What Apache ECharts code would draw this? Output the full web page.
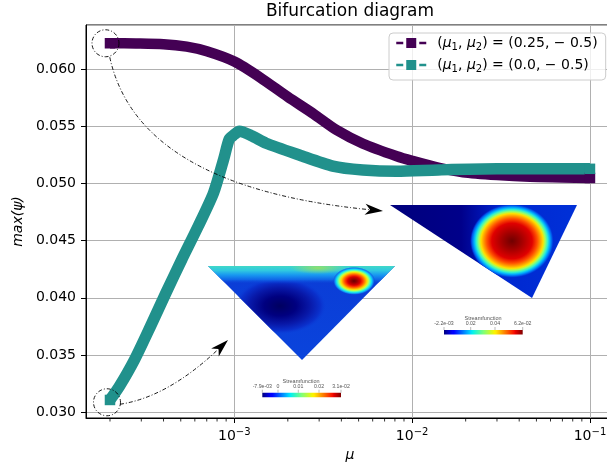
<!DOCTYPE html>
<html><head><meta charset="utf-8">
<script src="https://cdn.jsdelivr.net/npm/echarts@6/dist/echarts.min.js"></script>
<style>html,body{margin:0;padding:0;background:#fff}#c{width:607px;height:467px}</style>
</head><body><div id="c"></div>
<script>
// ---- data ----
const seriesNames = ['(μ1, μ2) = (0.25, −0.5)', '(μ1, μ2) = (0.0, −0.5)'];
const legendTails = ['(0.25, − 0.5)', '(0.0, − 0.5)'];
const muA  = [2.0e-4, 2.8e-4, 4.0e-4, 5.4e-4, 7.0e-4, 1.0e-3, 1.4e-3, 2.0e-3, 2.8e-3, 3.76e-3, 5.3e-3, 8.2e-3, 1.0e-2, 1.4e-2, 1.93e-2, 3.0e-2, 4.6e-2, 7.0e-2, 1.0e-1];
const psiA = [0.0623, 0.06228, 0.06222, 0.0620, 0.0616, 0.0607, 0.0593, 0.0576, 0.0561, 0.0547, 0.0535, 0.0524, 0.0520, 0.0514, 0.0510, 0.05075, 0.0506, 0.05055, 0.0505];
const muB  = [2.0e-4, 2.26e-4, 2.75e-4, 3.38e-4, 4.13e-4, 5.07e-4, 6.27e-4, 7.65e-4, 8.71e-4, 9.37e-4, 1.0e-3, 1.067e-3, 1.25e-3, 1.51e-3, 2.32e-3, 3.58e-3, 5.28e-3, 8.2e-3, 1.4e-2, 3.0e-2, 1.0e-1];
const psiB = [0.03105, 0.03225, 0.03459, 0.03751, 0.04044, 0.04336, 0.04628, 0.04921, 0.05213, 0.0539, 0.0543, 0.05459, 0.0542, 0.05354, 0.05251, 0.05154, 0.0512, 0.05108, 0.0512, 0.0513, 0.0513];
const minorTicksX = [2e-4,3e-4,4e-4,5e-4,6e-4,7e-4,8e-4,9e-4,2e-3,3e-3,4e-3,5e-3,6e-3,7e-3,8e-3,9e-3,2e-2,3e-2,4e-2,5e-2,6e-2,7e-2,8e-2,9e-2];
const cb1Labels = ['-7.9e-03', '0', '0.01', '0.02', '3.1e-02'];
const cb2Labels = ['-2.2e-03', '0.02', '0.04', '6.2e-02'];

const X_MIN = 1.466e-4, X_MAX = 0.1365, Y_MIN = 0.02947, Y_MAX = 0.0639;
const PURPLE = '#440154', TEAL = '#21918c';
const FONT = 'DejaVu Sans';

const chart = echarts.init(document.getElementById('c'), null, {renderer: 'canvas', width: 607, height: 467});

function lineSeries(name, mu, psi, color, w) {
  const last = mu.length - 1;
  return {
    type: 'line', name, data: mu.map((m, i) => [m, psi[i]]),
    color, symbol: 'rect', showSymbol: true, showAllSymbol: true,
    symbolSize: (v, p) => (p.dataIndex === 0 || p.dataIndex === last ? 10.5 : 0),
    smooth: 0.25,
    lineStyle: {width: w, color, join: 'round', cap: 'butt'},
    itemStyle: {color, borderWidth: 0},
    emphasis: {disabled: true}, silent: true, z: 2
  };
}

const option = {
  animation: false,
  backgroundColor: '#fff',
  textStyle: {fontFamily: FONT, color: '#000'},
  title: {
    text: 'Bifurcation diagram', left: 350, top: 3, textAlign: 'center', padding: 0,
    textStyle: {fontSize: 17, fontWeight: 'normal', color: '#000', fontFamily: FONT}
  },
  grid: {left: 86, right: -7, top: 25, bottom: 49, show: true, borderColor: '#000', borderWidth: 1,
         backgroundColor: 'transparent', containLabel: false, outerBoundsMode: 'none'},
  legend: {
    data: seriesNames, orient: 'vertical', left: 389, top: 33,
    padding: [3, 8, 6, 6], itemGap: 6, itemWidth: 30, itemHeight: 12.5,
    backgroundColor: 'rgba(255,255,255,0.8)', borderColor: '#cccccc', borderWidth: 1, borderRadius: 4,
    lineStyle: {width: 2.5, type: [7, 16], cap: 'butt'},
    itemStyle: {borderWidth: 0},
    selectedMode: false,
    formatter: name => {
      const i = seriesNames.indexOf(name);
      return '{g|}{p|(}{m|μ}{s|1}{p|, }{m|μ}{s|2}{p|) = ' + legendTails[i] + '}';
    },
    textStyle: {
      fontSize: 14, color: '#000', fontFamily: FONT,
      rich: {
        g: {width: 6},
        p: {fontSize: 14, lineHeight: 18, color: '#000', fontFamily: FONT},
        m: {fontSize: 14, lineHeight: 18, fontStyle: 'italic', color: '#000', fontFamily: FONT},
        s: {fontSize: 10, lineHeight: 7, verticalAlign: 'bottom', color: '#000', fontFamily: FONT}
      }
    }
  },
  xAxis: {
    type: 'log', logBase: 10, min: X_MIN, max: X_MAX,
    name: 'μ', nameLocation: 'middle', nameGap: 30,
    nameTextStyle: {fontSize: 14, fontStyle: 'italic', color: '#000', fontFamily: FONT},
    axisLine: {show: true, lineStyle: {color: '#000', width: 1}},
    axisTick: {show: true, length: 5, inside: false, lineStyle: {color: '#000', width: 1}},
    minorTick: {show: false}, minorSplitLine: {show: false},
    splitLine: {show: true, lineStyle: {color: '#b0b0b0', width: 1}},
    axisLabel: {
      show: true, margin: 9, showMinLabel: false, showMaxLabel: false,
      formatter: v => {
        const e = Math.log10(v);
        if (Math.abs(e - Math.round(e)) > 1e-6) return '';
        return '{b|10}{e|−' + (-Math.round(e)) + '}';
      },
      rich: {
        b: {fontSize: 14, lineHeight: 18, color: '#000', fontFamily: FONT},
        e: {fontSize: 10, lineHeight: 9, verticalAlign: 'top', color: '#000', fontFamily: FONT}
      }
    }
  },
  yAxis: {
    type: 'value', min: Y_MIN, max: Y_MAX, scale: true,
    name: 'max(ψ)', nameLocation: 'middle', nameGap: 58,
    nameTextStyle: {fontSize: 14, fontStyle: 'italic', color: '#000', fontFamily: FONT},
    axisLine: {show: true, lineStyle: {color: '#000', width: 1}},
    axisTick: {show: true, length: 5, inside: false, lineStyle: {color: '#000', width: 1}},
    splitLine: {show: true, lineStyle: {color: '#b0b0b0', width: 1}},
    axisLabel: {
      show: true, margin: 10, fontSize: 14, color: '#000', fontFamily: FONT,
      showMinLabel: false, showMaxLabel: false,
      formatter: v => (Math.abs(v / 0.005 - Math.round(v / 0.005)) > 1e-6 ? '' : v.toFixed(3))
    }
  },
  series: [
    lineSeries(seriesNames[0], muA, psiA, PURPLE, 10.5),
    lineSeries(seriesNames[1], muB, psiB, TEAL, 11.5),
    {
      type: 'custom', name: 'minor', silent: true, clip: false, z: 5,
      data: minorTicksX.map(v => [v, Y_MIN]), encode: {x: 0, y: 1},
      renderItem: (params, api) => {
        const p = api.coord([api.value(0), api.value(1)]);
        return {type: 'line', shape: {x1: p[0], y1: p[1], x2: p[0], y2: p[1] + 3.5},
                style: {stroke: '#000', lineWidth: 0.8}};
      }
    }
  ]
};
chart.setOption(option);

// ---- annotations and inset pictures ----
const DASH = [4, 2, 1, 2];
const g = [];
let zc = 100;
function add(el) { el.z = zc++; el.silent = true; g.push(el); }

function triFill(tri, fill) { add({type: 'polygon', shape: {points: tri}, style: {fill}}); }
function blob(tri, cx, cy, rx, ry, stops) {
  const k = rx / ry;
  add({type: 'polygon', x: cx, y: cy, scaleY: ry / rx,
       shape: {points: tri.map(p => [p[0] - cx, (p[1] - cy) * k])},
       style: {fill: {type: 'radial', x: 0, y: 0, r: rx, global: true, colorStops: stops}}});
}
function st(arr) { return arr.map(a => ({offset: a[0], color: a[1]})); }
const JET = st([[0,'#00007f'],[0.11,'#0000ff'],[0.125,'#0000ff'],[0.34,'#00dbff'],[0.36,'#00f0f0'],[0.5,'#7dff7a'],[0.64,'#f8f500'],[0.66,'#ffea00'],[0.89,'#fa0f00'],[0.91,'#e40000'],[1,'#7f0000']]);

// inset 1
const T1 = [[208, 266], [395, 266], [302, 360]];
triFill(T1, {type: 'linear', x: 0, y: 266, x2: 0, y2: 360, global: true,
             colorStops: st([[0, '#0b3cd6'], [1, '#0a44dc']])});
blob(T1, 280, 306, 46, 28, st([[0,'#000060'],[0.35,'#000080'],[0.65,'#0818a8'],[0.88,'#0a30cc'],[1,'rgba(11,60,214,0)']]));
triFill(T1, {type: 'linear', x: 0, y: 266, x2: 0, y2: 284, global: true,
             colorStops: st([[0,'#40d8c8'],[0.25,'#30c8e0'],[0.5,'#1898f0'],[0.75,'#1068e8'],[1,'rgba(11,60,214,0)']])});
blob(T1, 318, 268, 28, 6, st([[0,'rgba(160,226,90,0.85)'],[1,'rgba(160,226,90,0)']]));
blob(T1, 354, 281, 21, 14, st([[0,'#6a0000'],[0.15,'#9a0000'],[0.3,'#d80000'],[0.42,'#ff3c00'],[0.52,'#ff8c00'],[0.6,'#ffd200'],[0.68,'#c8ff3c'],[0.76,'#5affb0'],[0.84,'#10d8f8'],[0.92,'#1080f0'],[1,'rgba(11,60,214,0)']]));
// inset 2
const T2 = [[390, 205], [577, 205], [532, 298]];
triFill(T2, {type: 'linear', x: 390, y: 0, x2: 577, y2: 0, global: true,
             colorStops: st([[0,'#00007c'],[0.38,'#00008a'],[0.5,'#0014b4'],[0.6,'#0028d0'],[1,'#0030d8']])});
blob(T2, 512, 241, 42, 37, st([[0,'#700000'],[0.22,'#a00000'],[0.48,'#e00000'],[0.6,'#ff5000'],[0.68,'#ffa000'],[0.74,'#ffe000'],[0.79,'#a0ff60'],[0.85,'#30f0d0'],[0.9,'#00b0ff'],[0.96,'#0050e8'],[1,'rgba(0,40,208,0)']]));

// colorbars
function colorbar(x0, x1, yBar, labels, labelX, titleX) {
  add({type: 'rect', shape: {x: x0, y: yBar, width: x1 - x0, height: 4.6},
       style: {fill: {type: 'linear', x: 0, y: 0, x2: 1, y2: 0, colorStops: JET}}});
  add({type: 'text', x: titleX, y: yBar - 11.5,
       style: {text: 'Streamfunction', fill: '#555', fontSize: 5.5, fontFamily: 'Liberation Sans',
               align: 'center', verticalAlign: 'middle', textAlign: 'center', textVerticalAlign: 'middle'}});
  labels.forEach((t, i) => {
    add({type: 'text', x: labelX[i], y: yBar - 6,
         style: {text: t, fill: '#555', fontSize: 5.2, fontFamily: 'Liberation Sans',
                 align: 'center', verticalAlign: 'middle', textAlign: 'center', textVerticalAlign: 'middle'}});
    add({type: 'line', shape: {x1: labelX[i], y1: yBar - 3, x2: labelX[i], y2: yBar}, style: {stroke: '#777', lineWidth: 0.5}});
  });
}
colorbar(262.3, 341, 392.7, cb1Labels, [262.3, 278, 298.3, 319, 341], 301);
colorbar(444, 522.7, 330, cb2Labels, [444, 470.7, 495, 522.7], 483);

// circles around the starting points
const pA = chart.convertToPixel({gridIndex: 0}, [muA[0], psiA[0]]);
const pB = chart.convertToPixel({gridIndex: 0}, [muB[0], psiB[0]]);
const cA = [pA[0] - 4.5, pA[1]], cB = [pB[0] - 3, pB[1] + 2.3];
[cA, cB].forEach(c => add({type: 'circle', shape: {cx: c[0], cy: c[1], r: 13.5},
                           style: {fill: 'none', stroke: '#000', lineWidth: 0.9, lineDash: DASH}}));

function arrow(S, C, T, L, W) {
  const dx = T[0] - C[0], dy = T[1] - C[1], n = Math.hypot(dx, dy), ux = dx / n, uy = dy / n;
  const bx = T[0] - L * ux, by = T[1] - L * uy;
  const N = [T[0] - (L - 5) * ux, T[1] - (L - 5) * uy];
  add({type: 'bezierCurve', shape: {x1: S[0], y1: S[1], cpx1: C[0], cpy1: C[1], x2: N[0], y2: N[1]},
       style: {fill: 'none', stroke: '#000', lineWidth: 0.9, lineDash: DASH}});
  add({type: 'polygon', shape: {points: [T, [bx - W * uy, by + W * ux], N, [bx + W * uy, by - W * ux]]},
       style: {fill: '#000'}});
}
arrow([cA[0] + 4.3, cA[1] + 14], [138, 187], [383, 211], 18, 5.5);
arrow([cB[0] + 13, cB[1] + 2], [168, 397], [228, 340], 18, 5.5);

chart.setOption({graphic: {elements: g}});
</script>
</body></html>
